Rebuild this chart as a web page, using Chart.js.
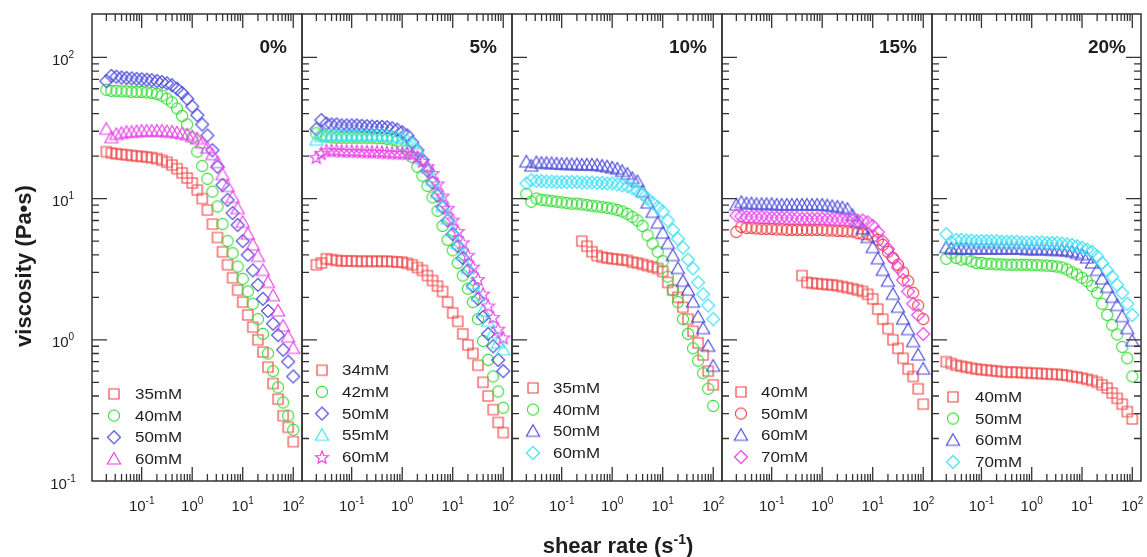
<!DOCTYPE html>
<html>
<head>
<meta charset="utf-8">
<script src="https://cdn.jsdelivr.net/npm/chart.js@4.4.1/dist/chart.umd.min.js"></script>
<style>
  html, body { margin: 0; padding: 0; background: #fff; }
  #wrap { position: relative; width: 1147px; height: 557px; }
  #wrap canvas { position: absolute; left: 0; top: 0; }
</style>
</head>
<body>
<div id="wrap"></div>
<script>
// shear rate (1/s), same grid for every curve
const shearRate = [0.02, 0.0251, 0.0316, 0.0398, 0.0501, 0.0631, 0.0794, 0.1, 0.126, 0.158,
  0.2, 0.251, 0.316, 0.398, 0.501, 0.631, 0.794, 1, 1.26, 1.58,
  2, 2.51, 3.16, 3.98, 5.01, 6.31, 7.94, 10, 12.6, 15.8,
  20, 25.1, 31.6, 39.8, 50.1, 63.1, 79.4, 100];

// viscosity (Pa s)
// 0%
const p0_35mM = [21.5, 21.0, 20.8, 20.6, 20.4, 20.2, 20.0, 19.9, 19.7, 19.5, 19.2, 18.7, 18.1, 17.3, 16.3, 15.2, 14.0, 12.9, 11.5, 10.0, 8.3, 6.6, 5.3, 4.2, 3.4, 2.75, 2.25, 1.85, 1.5, 1.23, 1.0, 0.82, 0.64, 0.49, 0.38, 0.29, 0.24, 0.19];
const p0_40mM = [59, 58, 58, 57.5, 57.5, 57, 57, 57, 56.5, 56, 55, 53.5, 51, 48, 43.5, 38.5, 33.5, 27, 21.5, 17, 13.8, 11.2, 8.8, 6.6, 5.0, 4.1, 3.3, 2.7, 2.2, 1.8, 1.4, 1.1, 0.8, 0.6, 0.46, 0.36, 0.29, 0.23];
const p0_50mM = [68, 74, 73, 72, 71.5, 71, 70.5, 70, 69.5, 69, 68, 67, 65.5, 63.5, 60, 56, 51, 45, 39, 33.5, 28, 22, 16.8, 12.5, 9.8, 7.9, 6.5, 5.0, 4.0, 3.1, 2.45, 1.95, 1.6, 1.3, 1.08, 0.85, 0.7, 0.55];
const p0_60mM = [31, 27, 28.5, 29, 29.5, 29.5, 29.8, 30, 30, 30, 30, 30, 29.8, 29.6, 29.2, 28.8, 28.3, 27.5, 26.5, 24.8, 22.8, 20.5, 18, 14.8, 12.2, 10.2, 8.5, 6.8, 5.6, 4.7, 3.9, 3.1, 2.55, 2.05, 1.6, 1.25, 1.05, 0.87];
// 5%
const p5_34mM = [3.4, 3.5, 3.75, 3.7, 3.65, 3.62, 3.62, 3.62, 3.6, 3.6, 3.6, 3.6, 3.6, 3.6, 3.6, 3.58, 3.55, 3.55, 3.48, 3.4, 3.25, 3.1, 2.85, 2.63, 2.4, 2.2, 1.85, 1.55, 1.35, 1.1, 0.92, 0.8, 0.66, 0.5, 0.4, 0.32, 0.26, 0.22];
const p5_42mM = [29, 28, 27.5, 27.2, 27, 27, 27, 27, 27, 27, 27, 27, 26.8, 26.8, 26.5, 26.2, 25.5, 24, 22, 19.7, 16.8, 14.5, 12.3, 10.2, 8.2, 6.4, 5.1, 4.3, 3.5, 2.85, 2.3, 1.85, 1.4, 0.98, 0.72, 0.55, 0.43, 0.33];
const p5_50mM = [31, 36, 34, 33.5, 33.5, 33, 33, 33, 33, 32.8, 32.6, 32.4, 32.2, 32.2, 32, 31.5, 30.8, 29.5, 28, 25, 22, 18.8, 15.8, 13, 10.5, 8.7, 7.0, 5.6, 4.6, 3.8, 3.1, 2.4, 1.95, 1.45, 1.1, 0.9, 0.72, 0.6];
const p5_55mM = [26, 27.5, 28, 28, 28, 28, 28, 28, 28, 28, 28, 28, 28, 27.9, 27.8, 27.5, 27.2, 26.7, 25.8, 24.5, 22, 19, 16.5, 13.5, 11, 8.8, 7.2, 5.9, 4.8, 4.0, 3.2, 2.5, 2.05, 1.6, 1.35, 1.12, 0.95, 0.85];
const p5_60mM = [19.7, 21, 22, 22, 22, 21.8, 21.8, 21.8, 21.7, 21.6, 21.6, 21.5, 21.5, 21.4, 21.3, 21.2, 21.1, 21, 21, 20.8, 19.8, 18.5, 17, 15.2, 12.8, 10.5, 8.6, 7.1, 5.9, 4.9, 4.0, 3.3, 2.7, 2.13, 1.75, 1.45, 1.2, 1.04];
// 10%
const p10_35mM = [null, null, null, null, null, null, null, null, null, null, null, 5.0, 4.6, 4.2, 3.95, 3.85, 3.8, 3.75, 3.72, 3.68, 3.65, 3.55, 3.5, 3.42, 3.35, 3.28, 3.2, 3.05, 2.55, 2.25, 2.0, 1.7, 1.4, 1.15, 0.95, 0.78, 0.6, 0.48];
const p10_40mM = [10.8, 9.5, 10, 9.8, 9.7, 9.6, 9.5, 9.4, 9.3, 9.2, 9.2, 9.1, 9.0, 8.9, 8.8, 8.7, 8.6, 8.5, 8.3, 8.1, 7.8, 7.4, 7.0, 6.4, 5.5, 4.8, 4.2, 3.6, 2.8, 2.25, 1.85, 1.4, 1.1, 0.87, 0.71, 0.58, 0.45, 0.34];
const p10_50mM = [18.2, 17, 18, 17.8, 17.8, 17.7, 17.6, 17.5, 17.5, 17.4, 17.4, 17.3, 17.3, 17.3, 17.2, 17.0, 16.8, 16.5, 16.2, 15.6, 14.9, 13.9, 13.2, 11.2, 9.3, 8.0, 6.7, 5.7, 4.8, 3.95, 3.2, 2.6, 2.25, 1.85, 1.45, 1.2, 0.9, 0.65];
const p10_60mM = [12.8, 13.5, 13.3, 13.3, 13.2, 13.2, 13.1, 13.1, 13.1, 13.1, 13.1, 13.0, 13.0, 13.0, 12.9, 12.9, 12.8, 12.8, 12.6, 12.4, 12.2, 11.8, 11.3, 10.7, 10.0, 9.3, 8.7, 8.1, 7.0, 6.0, 5.2, 4.5, 3.7, 3.2, 2.55, 2.1, 1.75, 1.4];
// 15%
const p15_40mM = [null, null, null, null, null, null, null, null, null, null, null, null, null, 2.85, 2.55, 2.52, 2.5, 2.48, 2.46, 2.45, 2.42, 2.38, 2.34, 2.3, 2.25, 2.2, 2.1, 1.95, 1.65, 1.4, 1.2, 1.0, 0.87, 0.74, 0.62, 0.55, 0.45, 0.35];
const p15_50mM = [5.8, 6.3, 6.2, 6.2, 6.15, 6.1, 6.1, 6.1, 6.05, 6.05, 6.0, 6.0, 6.0, 6.0, 6.0, 6.0, 6.0, 6.0, 5.95, 5.95, 5.9, 5.9, 5.85, 5.85, 5.7, 5.6, 5.6, 5.4, 5.1, 4.7, 4.2, 3.8, 3.4, 3.0, 2.6, 2.15, 1.75, 1.4];
const p15_60mM = [9.0, 9.4, 9.2, 9.2, 9.1, 9.1, 9.1, 9.1, 9.0, 9.0, 9.0, 9.0, 9.0, 9.0, 9.0, 9.0, 9.0, 9.0, 8.9, 8.8, 8.7, 8.6, 8.4, 7.6, 6.8, 6.1, 5.3, 4.5, 3.75, 3.1, 2.6, 2.1, 1.7, 1.4, 1.18, 0.97, 0.78, 0.62];
const p15_70mM = [7.6, 7.5, 7.4, 7.4, 7.4, 7.4, 7.35, 7.3, 7.3, 7.3, 7.3, 7.25, 7.25, 7.2, 7.2, 7.2, 7.2, 7.2, 7.15, 7.1, 7.1, 7.1, 7.05, 7.0, 7.0, 7.0, 6.8, 6.4, 5.8, 5.0, 4.4, 3.8, 3.25, 2.65, 2.2, 1.8, 1.5, 1.1];
// 20%
const p20_40mM = [0.70, 0.68, 0.66, 0.65, 0.64, 0.63, 0.62, 0.615, 0.61, 0.605, 0.6, 0.595, 0.59, 0.59, 0.59, 0.585, 0.585, 0.58, 0.58, 0.575, 0.575, 0.57, 0.57, 0.565, 0.56, 0.55, 0.545, 0.535, 0.525, 0.515, 0.5, 0.48, 0.455, 0.42, 0.385, 0.35, 0.31, 0.275];
const p20_50mM = [3.75, 4.1, 3.8, 3.7, 3.75, 3.6, 3.5, 3.5, 3.45, 3.45, 3.42, 3.42, 3.4, 3.4, 3.4, 3.4, 3.4, 3.38, 3.38, 3.36, 3.35, 3.33, 3.3, 3.25, 3.15, 3.0, 2.9, 2.75, 2.6, 2.4, 2.15, 1.8, 1.5, 1.27, 1.09, 0.89, 0.74, 0.55];
const p20_60mM = [4.5, 4.4, 4.4, 4.4, 4.4, 4.4, 4.4, 4.4, 4.4, 4.4, 4.4, 4.4, 4.4, 4.4, 4.4, 4.4, 4.35, 4.35, 4.35, 4.35, 4.35, 4.3, 4.3, 4.3, 4.25, 4.2, 4.1, 4.0, 3.8, 3.5, 3.1, 2.7, 2.35, 2.0, 1.75, 1.46, 1.2, 0.98];
const p20_70mM = [5.6, 4.9, 5.1, 5.1, 5.05, 5.05, 5.0, 5.0, 5.0, 5.0, 5.0, 4.95, 4.95, 4.95, 4.95, 4.9, 4.9, 4.9, 4.9, 4.9, 4.85, 4.85, 4.85, 4.8, 4.75, 4.7, 4.6, 4.5, 4.35, 4.2, 3.9, 3.5, 3.1, 2.8, 2.45, 2.15, 1.8, 1.5];

const panelLabels = ['0%', '5%', '10%', '15%', '20%'];
const seriesNames = [
  ['35mM', '40mM', '50mM', '60mM'],
  ['34mM', '42mM', '50mM', '55mM', '60mM'],
  ['35mM', '40mM', '50mM', '60mM'],
  ['40mM', '50mM', '60mM', '70mM'],
  ['40mM', '50mM', '60mM', '70mM']
];
const seriesValues = [
  [p0_35mM, p0_40mM, p0_50mM, p0_60mM],
  [p5_34mM, p5_42mM, p5_50mM, p5_55mM, p5_60mM],
  [p10_35mM, p10_40mM, p10_50mM, p10_60mM],
  [p15_40mM, p15_50mM, p15_60mM, p15_70mM],
  [p20_40mM, p20_50mM, p20_60mM, p20_70mM]
];
const tickPowers = [-1, 0, 1, 2];

// styles
const RED = '#f04040', GREEN = '#38dc38', BLUE = '#4c4cdc', CYAN = '#3ee0f4', MAGENTA = '#e842e8';
const seriesStyles = [
  [['square', RED], ['circle', GREEN], ['diamond', BLUE], ['triangle', MAGENTA]],
  [['square', RED], ['circle', GREEN], ['diamond', BLUE], ['triangle', CYAN], ['star', MAGENTA]],
  [['square', RED], ['circle', GREEN], ['triangle', BLUE], ['diamond', CYAN]],
  [['square', RED], ['circle', RED], ['triangle', BLUE], ['diamond', MAGENTA]],
  [['square', RED], ['circle', GREEN], ['triangle', BLUE], ['diamond', CYAN]]
];

// layout
const W = 1147, H = 557;
const panelLeft = [92, 302, 512, 722, 932];
const panelRight = [302, 512, 722, 932, 1143];
const plotTop = 14, plotBottom = 481;
const legendPos = [[114, 135, 459], [322, 342, 457], [533, 553, 453], [741, 761, 457], [953, 975, 462]];
const rowGap = 21.7;
const FONT = '"Liberation Sans", Arial, Helvetica, sans-serif';
const INK = '#1e1e1e';

function makeMarker(shape, color) {
  const c = document.createElement('canvas');
  c.width = 18; c.height = 18;
  const g = c.getContext('2d');
  const cx = 9, cy = 9;
  g.strokeStyle = color;
  g.lineWidth = 1.15;
  g.beginPath();
  if (shape === 'square') {
    g.rect(cx - 5, cy - 5, 10, 10);
  } else if (shape === 'circle') {
    g.arc(cx, cy, 5.6, 0, Math.PI * 2);
  } else if (shape === 'diamond') {
    g.moveTo(cx, cy - 6.5); g.lineTo(cx + 6.5, cy); g.lineTo(cx, cy + 6.5); g.lineTo(cx - 6.5, cy); g.closePath();
  } else if (shape === 'triangle') {
    g.moveTo(cx, cy - 6.5); g.lineTo(cx + 6.6, cy + 5); g.lineTo(cx - 6.6, cy + 5); g.closePath();
  } else {
    for (let k = 0; k < 10; k++) {
      const r = k % 2 ? 2.9 : 6.8;
      const a = -Math.PI / 2 + k * Math.PI / 5;
      const px = cx + r * Math.cos(a), py = cy + 0.8 + r * Math.sin(a);
      if (k) g.lineTo(px, py); else g.moveTo(px, py);
    }
    g.closePath();
  }
  g.stroke();
  return c;
}

// "10" with raised exponent
function powLabel(ctx, exp, x, y, baseFont, expFont, rise) {
  ctx.font = baseFont;
  const wb = ctx.measureText('10').width;
  ctx.font = expFont;
  const we = ctx.measureText(exp).width;
  const x0 = x - (wb + we) / 2;
  ctx.textAlign = 'left';
  ctx.textBaseline = 'alphabetic';
  ctx.font = baseFont;
  ctx.fillText('10', x0, y);
  ctx.font = expFont;
  ctx.fillText(exp, x0 + wb, y - rise);
}

const axisPlugin = {
  id: 'panelAxes',
  afterDatasetsDraw(chart, args, opts) {
    const { ctx, chartArea: a, scales: { x, y } } = chart;
    const p = opts.panel;
    ctx.save();
    ctx.strokeStyle = '#333';
    ctx.lineWidth = 1.3;
    ctx.beginPath();
    for (let e = -2; e <= 2; e++) {
      for (let m = 1; m <= 9; m++) {
        const v = m * Math.pow(10, e);
        if (v <= x.min || v >= x.max) continue;
        const px = x.getPixelForValue(v);
        const len = m === 1 ? 14 : 7;
        ctx.moveTo(px, a.bottom); ctx.lineTo(px, a.bottom - len);
        ctx.moveTo(px, a.top); ctx.lineTo(px, a.top + len);
      }
    }
    for (let e = -1; e <= 2; e++) {
      for (let m = 1; m <= 9; m++) {
        const v = m * Math.pow(10, e);
        if (v <= y.min * 1.001 || v >= y.max * 0.97) continue;
        const py = y.getPixelForValue(v);
        const len = m === 1 ? 15 : 7;
        ctx.moveTo(a.left, py); ctx.lineTo(a.left + len, py);
        if (p === 4) { ctx.moveTo(a.right, py); ctx.lineTo(a.right - len, py); }
      }
    }
    ctx.stroke();
    ctx.lineWidth = 1.5;
    ctx.strokeRect(a.left, a.top, a.right - a.left, a.bottom - a.top);

    ctx.fillStyle = INK;
    // x tick labels
    tickPowers.forEach(e => {
      powLabel(ctx, String(e), x.getPixelForValue(Math.pow(10, e)), 511, '15px ' + FONT, '10px ' + FONT, 7);
    });
    // y tick labels (first panel only)
    if (p === 0) {
      tickPowers.forEach(e => {
        powLabel(ctx, String(e), 63, y.getPixelForValue(Math.pow(10, e)) + 7.5, '15px ' + FONT, '10px ' + FONT, 7);
      });
      // axis titles
      ctx.save();
      ctx.translate(25, 266);
      ctx.rotate(-Math.PI / 2);
      ctx.font = 'bold 22px ' + FONT;
      ctx.textAlign = 'center';
      ctx.textBaseline = 'middle';
      ctx.fillText('viscosity (Pa\u2022s)', 0, 0);
      ctx.restore();
      ctx.font = 'bold 22px ' + FONT;
      const t1 = 'shear rate (s', t3 = ')';
      const w1 = ctx.measureText(t1).width, w3 = ctx.measureText(t3).width;
      ctx.font = 'bold 14px ' + FONT;
      const w2 = ctx.measureText('-1').width;
      const x0 = 618 - (w1 + w2 + w3) / 2;
      ctx.textAlign = 'left';
      ctx.textBaseline = 'alphabetic';
      ctx.font = 'bold 22px ' + FONT;
      ctx.fillText(t1, x0, 553);
      ctx.fillText(t3, x0 + w1 + w2, 553);
      ctx.font = 'bold 14px ' + FONT;
      ctx.fillText('-1', x0 + w1, 544);
    }
    // panel label
    ctx.font = 'bold 19px ' + FONT;
    ctx.textAlign = 'right';
    ctx.textBaseline = 'alphabetic';
    ctx.fillText(panelLabels[p], a.right - 15, 53);
    // inset legend
    const [mx, tx, lastY] = legendPos[p];
    const n = chart.data.datasets.length;
    ctx.font = '15px ' + FONT;
    ctx.textAlign = 'left';
    ctx.textBaseline = 'middle';
    chart.data.datasets.forEach((ds, j) => {
      const ry = lastY - (n - 1 - j) * rowGap;
      ctx.drawImage(ds.pointStyle, mx - 9, ry - 9);
      ctx.save();
      ctx.translate(tx, ry + 1);
      ctx.scale(1.13, 1);
      ctx.fillText(ds.label, 0, 0);
      ctx.restore();
    });
    ctx.restore();
  }
};

const wrap = document.getElementById('wrap');
seriesValues.forEach((vals, p) => {
  const cv = document.createElement('canvas');
  cv.width = W; cv.height = H;
  wrap.appendChild(cv);
  new Chart(cv, {
    type: 'scatter',
    data: {
      datasets: vals.map((v, j) => ({
        label: seriesNames[p][j],
        data: shearRate.map((s, i) => v[i] == null ? null : { x: s, y: v[i] }).filter(d => d),
        pointStyle: makeMarker(seriesStyles[p][j][0], seriesStyles[p][j][1]),
        pointRadius: 5,
        pointHoverRadius: 5,
        borderColor: seriesStyles[p][j][1],
        backgroundColor: 'rgba(0,0,0,0)',
        showLine: false,
        order: vals.length - j
      }))
    },
    options: {
      responsive: false,
      animation: false,
      events: [],
      layout: { padding: { left: panelLeft[p], right: W - panelRight[p], top: plotTop, bottom: H - plotBottom } },
      scales: {
        x: { type: 'logarithmic', min: 0.0104, max: 149, display: false },
        y: { type: 'logarithmic', min: 0.1, max: 203, display: false }
      },
      plugins: {
        legend: { display: false },
        tooltip: { enabled: false },
        panelAxes: { panel: p }
      }
    },
    plugins: [axisPlugin]
  });
});
</script>
</body>
</html>
